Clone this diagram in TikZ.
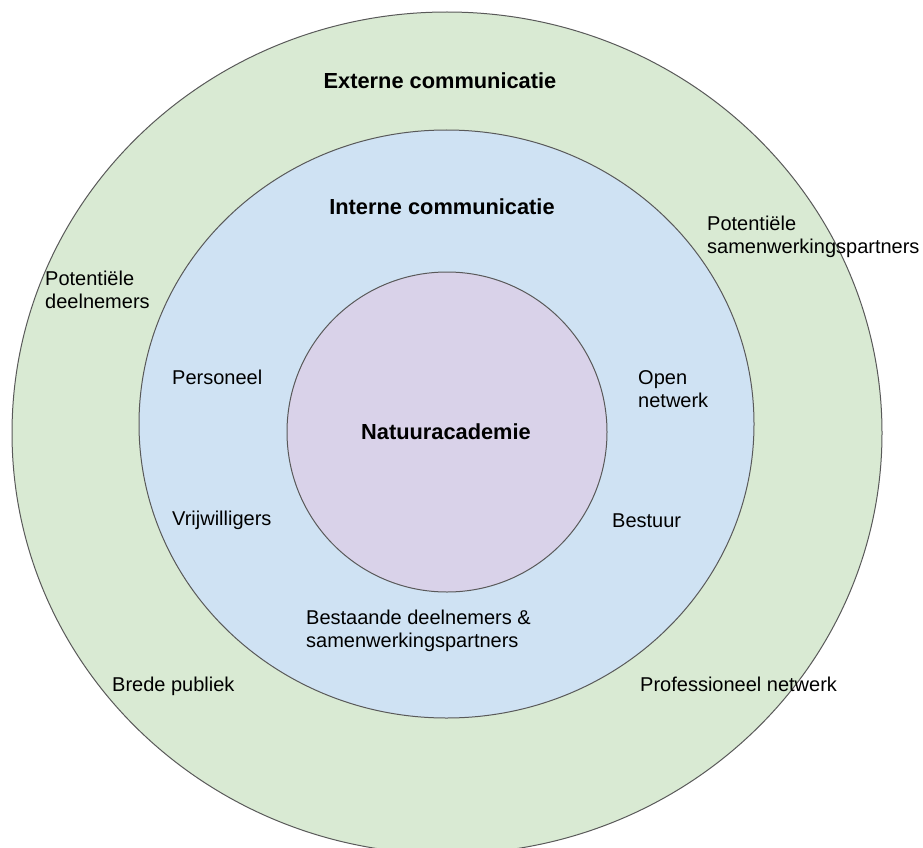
\documentclass[tikz,border=0pt]{standalone}
\usepackage{fontspec}
\setmainfont{Liberation Sans}
\definecolor{ringgreen}{HTML}{D9EAD3}
\definecolor{ringblue}{HTML}{CFE2F3}
\definecolor{ringpurple}{HTML}{D9D2E9}
\definecolor{ringline}{HTML}{595959}
\tikzset{
  ring/.style={draw=ringline, line width=1pt},
  lbl/.style={anchor=base west, inner sep=0pt, font=\fontsize{20}{23}\selectfont},
  ttl/.style={anchor=base, inner sep=0pt, font=\fontsize{21.8}{24}\selectfont\bfseries},
}
\begin{document}
\begin{tikzpicture}[x=1pt,y=-1pt]
\useasboundingbox (0,0) rectangle (923,848);
\begin{scope}
\clip (0,0) rectangle (923,848);
\fill[ringgreen] (447,433) ellipse [x radius=435, y radius=421];
\draw[ring] (447,433) ellipse [x radius=435, y radius=421];
\end{scope}
\draw[ring, fill=ringblue] (446.5,424) ellipse [x radius=307.5, y radius=294];
\draw[ring, fill=ringpurple] (447,432) ellipse [x radius=160, y radius=160];

\node[ttl] (ext) at (440,89) {Externe communicatie};
\node[ttl] (int) at (442,214) {Interne communicatie};
\node[ttl] (nat) at (446,439) {Natuuracademie};

\node[lbl] (potdeelA) at (45,285) {Potentiële};
\node[lbl] (potdeelB) at (45,308) {deelnemers};
\node[lbl] (potsamA) at (707,230) {Potentiële};
\node[lbl] (potsamB) at (707,253) {samenwerkingspartners};
\node[lbl] (pers) at (172,384) {Personeel};
\node[lbl] (openA) at (638,384) {Open};
\node[lbl] (openB) at (638,407) {netwerk};
\node[lbl] (vrij) at (172,525) {Vrijwilligers};
\node[lbl] (best) at (612,527) {Bestuur};
\node[lbl] (bestA) at (306,624) {Bestaande deelnemers \&};
\node[lbl] (bestB) at (306,647) {samenwerkingspartners};
\node[lbl] (brede) at (112,691) {Brede publiek};
\node[lbl] (prof) at (640,691) {Professioneel netwerk};
\end{tikzpicture}
\end{document}
